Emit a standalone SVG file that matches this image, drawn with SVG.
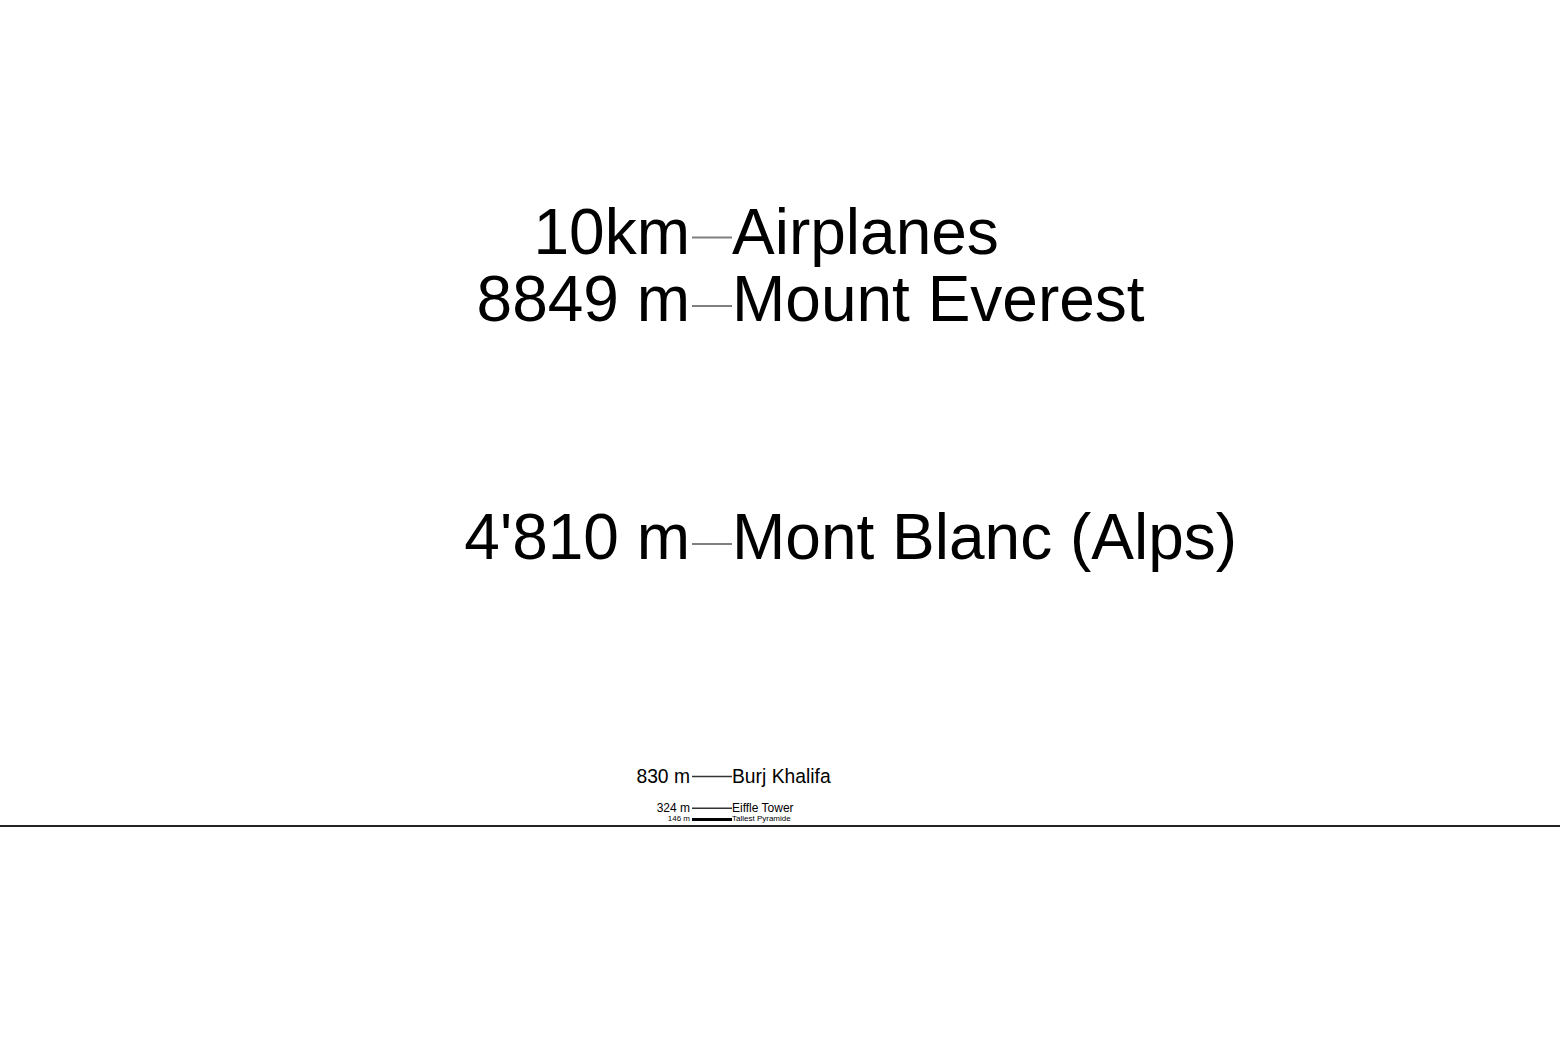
<svg xmlns="http://www.w3.org/2000/svg" width="1560" height="1040" viewBox="0 0 1560 1040">
<style>
text{font-family:"Liberation Sans",Arial,sans-serif;fill:#000}
.l{text-anchor:end}
.big{font-size:64px}
.tick{stroke:#808080;stroke-width:2}
.tk{stroke:#333;stroke-width:1.5}
</style>
<rect width="1560" height="1040" fill="#fff"/>
<g id="connectors">
<line class="tick" x1="692" y1="237.5" x2="732" y2="237.5"/>
<line class="tick" x1="692" y1="306" x2="732" y2="306"/>
<line class="tick" x1="692" y1="544" x2="732" y2="544"/>
<line class="tk" x1="692" y1="776.5" x2="732" y2="776.5"/>
<line class="tk" x1="692" y1="808.2" x2="732" y2="808.2"/>
<line stroke="#000" stroke-width="3" x1="692" y1="819.5" x2="732" y2="819.5"/>
</g>
<g id="ground"><line x1="0" y1="826" x2="1560" y2="826" stroke="#222" stroke-width="2"/></g>
<g id="airplanes"><text class="l big" x="690" y="254">10km</text><text class="big" x="732" y="254">Airplanes</text></g>
<g id="everest"><text class="l big" x="690" y="321">8849 m</text><text class="big" x="732" y="321">Mount Everest</text></g>
<g id="montblanc"><text class="l big" x="690" y="558.5">4'810 m</text><text class="big" x="732" y="558.5">Mont Blanc (Alps)</text></g>
<g id="burj"><text class="l" font-size="19.3" x="690" y="782.5">830 m</text><text font-size="19.3" x="732" y="782.5">Burj Khalifa</text></g>
<g id="eiffel"><text class="l" font-size="12" x="690" y="811.5">324 m</text><text font-size="12" x="732" y="811.5">Eiffle Tower</text></g>
<g id="pyramid"><text class="l" font-size="8" x="690" y="821">146 m</text><text font-size="8" x="732" y="821">Tallest Pyramide</text></g>
</svg>
